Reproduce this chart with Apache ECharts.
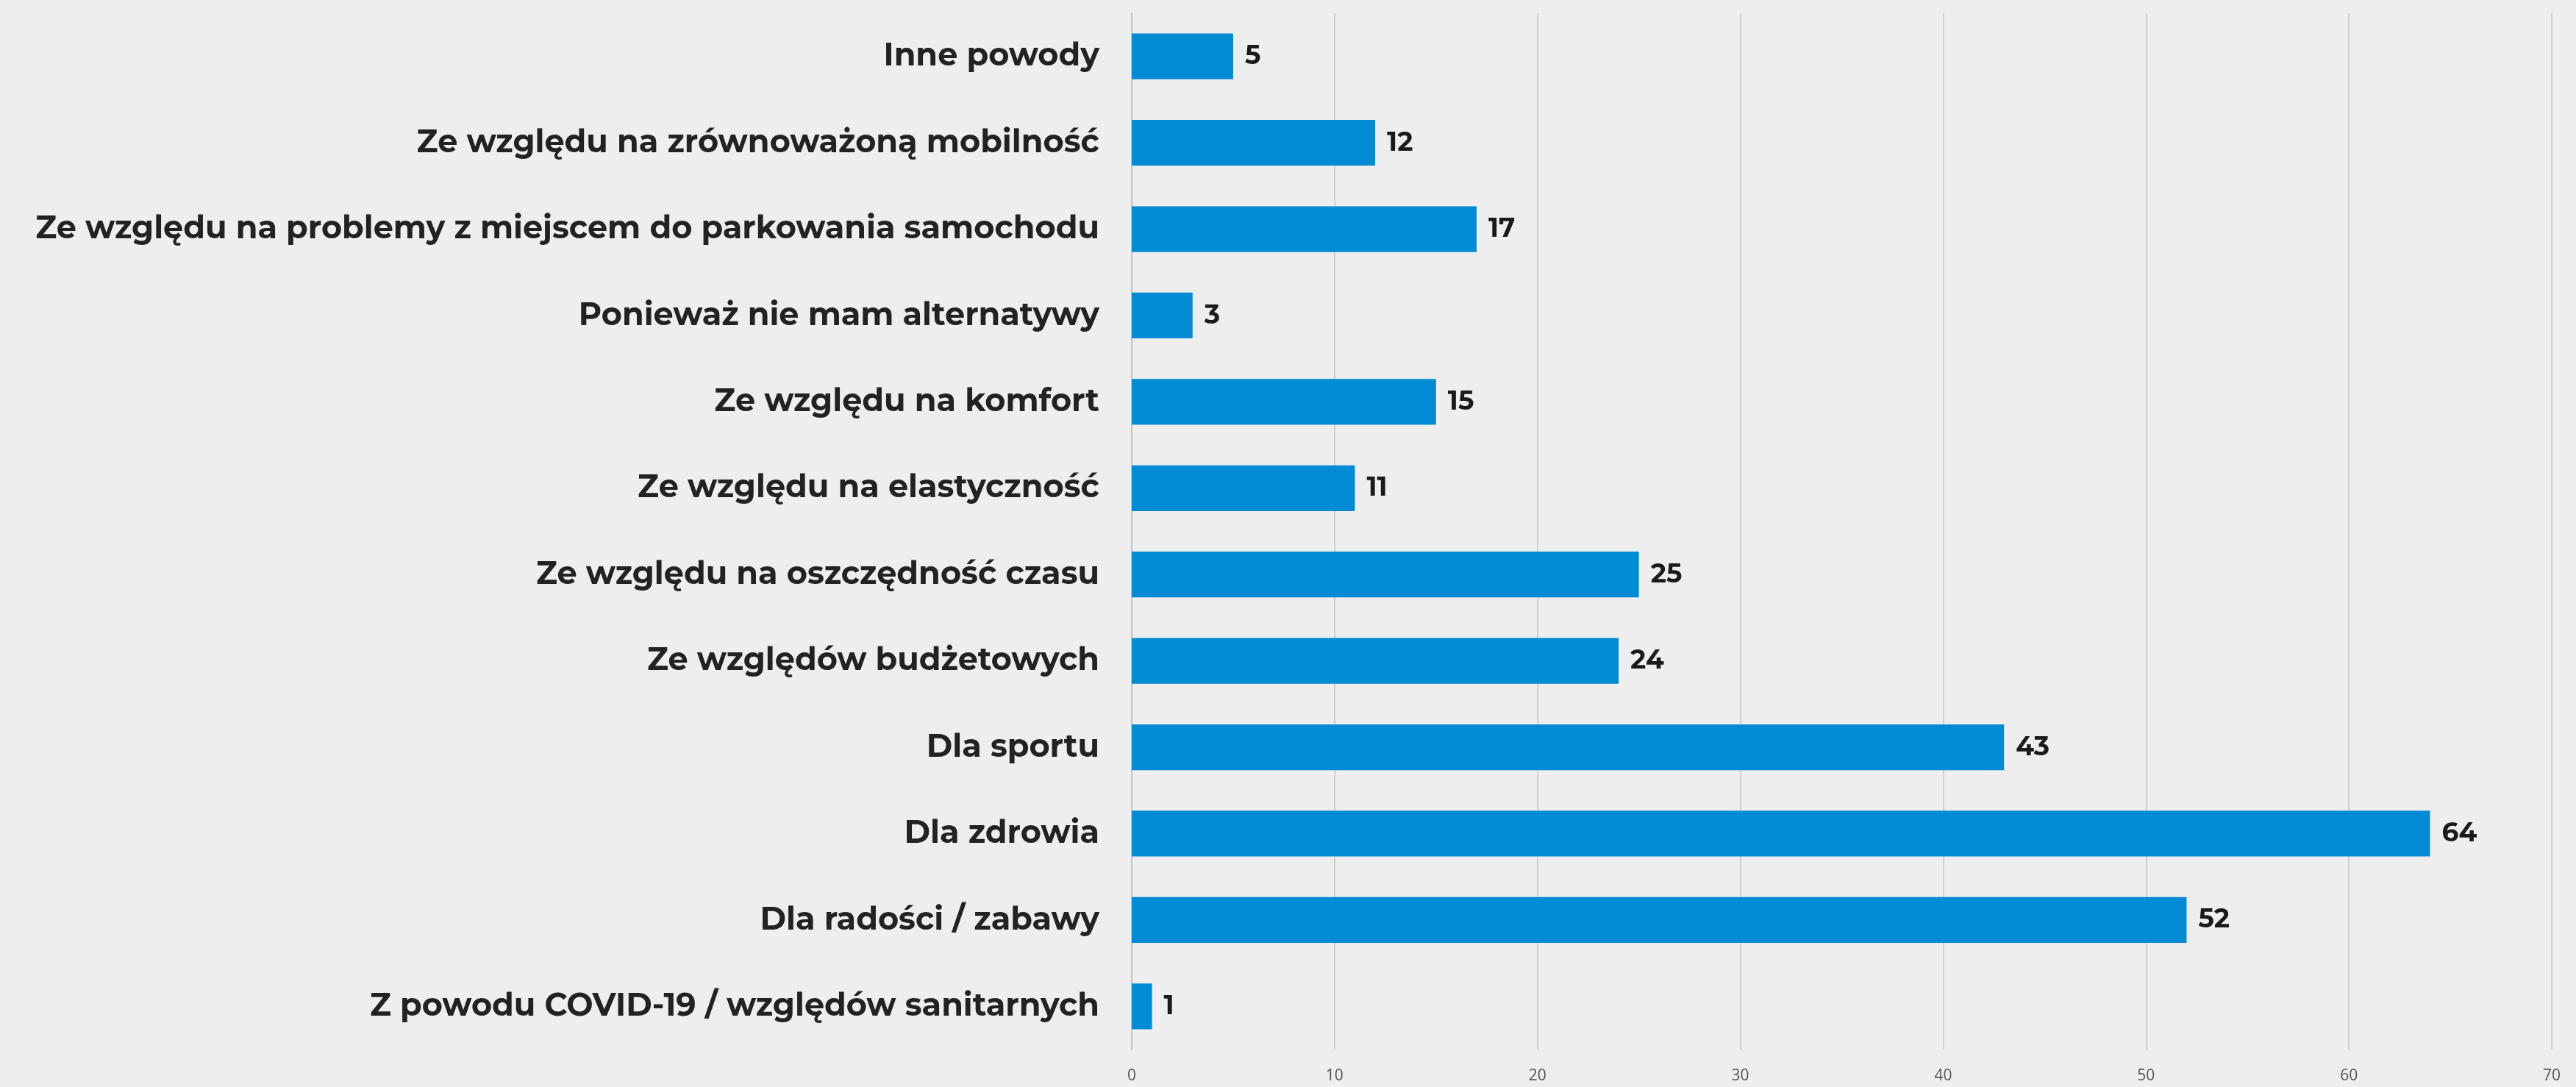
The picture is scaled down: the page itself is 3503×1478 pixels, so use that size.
<!DOCTYPE html>
<html><head><meta charset="utf-8">
<script src="https://cdn.jsdelivr.net/npm/echarts@6/dist/echarts.min.js"></script>
<style>html,body{margin:0;padding:0;background:#eeeeee}#c{width:3503px;height:1478px}</style>
</head><body><div id="c"></div>
<script>
const categories = [
  "Inne powody",
  "Ze względu na zrównoważoną mobilność",
  "Ze względu na problemy z miejscem do parkowania samochodu",
  "Ponieważ nie mam alternatywy",
  "Ze względu na komfort",
  "Ze względu na elastyczność",
  "Ze względu na oszczędność czasu",
  "Ze względów budżetowych",
  "Dla sportu",
  "Dla zdrowia",
  "Dla radości / zabawy",
  "Z powodu COVID-19 / względów sanitarnych"
];
const values = [5, 12, 17, 3, 15, 11, 25, 24, 43, 64, 52, 1];
const xTicks = [0, 10, 20, 30, 40, 50, 60, 70];

const chart = echarts.init(document.getElementById('c'));
chart.setOption({
  backgroundColor: '#eeeeee',
  animation: false,
  grid: { left: 1539, right: 33, top: 18, bottom: 51, containLabel: false },
  xAxis: {
    type: 'value', min: xTicks[0], max: xTicks[xTicks.length - 1], interval: 10,
    axisLine: { show: false }, axisTick: { show: false },
    splitLine: { show: true, lineStyle: { color: '#cfcfcf', width: 2 } },
    axisLabel: { color: '#555555', fontSize: 21, fontFamily: 'Open Sans', margin: 26 }
  },
  yAxis: {
    type: 'category', data: categories, inverse: true,
    axisLine: { show: true, lineStyle: { color: '#c4c4c4', width: 2 } },
    axisTick: { show: false },
    axisLabel: { color: '#222222', fontSize: 43, fontWeight: 'bold', fontFamily: 'Montserrat, Noto Sans, sans-serif', margin: 44 }
  },
  series: [{
    type: 'bar', data: values, barCategoryGap: '47%',
    itemStyle: { color: '#008bd4' },
    label: { show: true, position: 'right', distance: 16, color: '#1a1a1a', fontSize: 36, fontWeight: 'bold', fontFamily: 'Montserrat, Noto Sans, sans-serif' }
  }]
});
</script></body></html>
